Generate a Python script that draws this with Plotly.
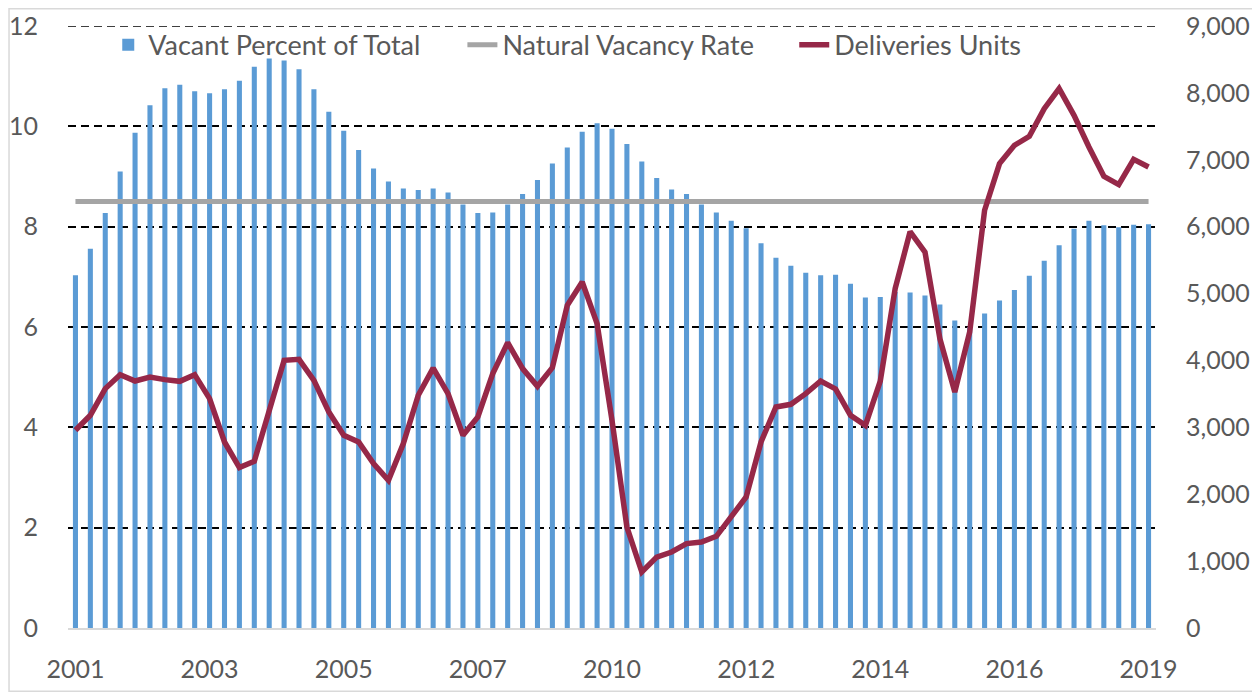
import plotly.graph_objects as go

# ---- data ----
quarters = [f"{y}Q{q}" for y in range(2001, 2019) for q in range(1, 5)] + ["2019Q1"]

vacant_pct = [7.03, 7.56, 8.27, 9.10, 9.87, 10.42, 10.76, 10.83, 10.70, 10.66,
              10.74, 10.91, 11.19, 11.35, 11.31, 11.14, 10.74, 10.29, 9.91, 9.53,
              9.16, 8.90, 8.76, 8.73, 8.76, 8.68, 8.44, 8.27, 8.28, 8.44,
              8.65, 8.93, 9.26, 9.58, 9.89, 10.06, 9.95, 9.65, 9.30, 8.97,
              8.74, 8.65, 8.44, 8.28, 8.12, 7.97, 7.67, 7.38, 7.22, 7.08,
              7.03, 7.04, 6.86, 6.59, 6.60, 6.70, 6.69, 6.63, 6.45, 6.13,
              6.00, 6.27, 6.53, 6.74, 7.02, 7.32, 7.63, 7.96, 8.12, 8.03,
              7.99, 8.04, 8.05]

natural_rate_value = 8.5
natural_rate = [natural_rate_value] * len(quarters)

deliveries = [2956, 3180, 3579, 3788, 3693, 3753, 3713, 3688, 3788, 3429,
              2781, 2398, 2492, 3255, 4002, 4017, 3703, 3229, 2881, 2781,
              2458, 2208, 2757, 3479, 3885, 3504, 2881, 3155, 3803, 4266,
              3878, 3613, 3893, 4824, 5173, 4550, 3105, 1510, 837, 1061,
              1136, 1262, 1286, 1371, 1660, 1958, 2781, 3304, 3344, 3504,
              3693, 3574, 3180, 3030, 3690, 5074, 5925, 5621, 4326, 3528,
              4425, 6245, 6943, 7216, 7351, 7765, 8064, 7665, 7191, 6753,
              6629, 7007, 6892]

tick_idx = list(range(0, len(quarters), 9))
tick_vals = [quarters[i] for i in tick_idx]
tick_text = [quarters[i][:4] for i in tick_idx]

left_ticks = [0, 2, 4, 6, 8, 10, 12]
right_ticks = [0, 1000, 2000, 3000, 4000, 5000, 6000, 7000, 8000, 9000]

FONT = "Lato"
GREY_TXT = "#595959"

fig = go.Figure()
fig.add_trace(go.Bar(
    x=quarters, y=vacant_pct, name="Vacant Percent of Total",
    marker=dict(color="#5B9BD5", line=dict(width=0)),
    legend="legend", yaxis="y", showlegend=True,
))
fig.add_trace(go.Scatter(
    x=quarters, y=natural_rate, name="Natural Vacancy Rate", mode="lines",
    line=dict(color="#A5A5A5", width=5), legend="legend2", yaxis="y", showlegend=True,
))
fig.add_trace(go.Scatter(
    x=quarters, y=deliveries, name="Deliveries Units", mode="lines",
    line=dict(color="#962848", width=5.5), legend="legend3", yaxis="y2", showlegend=True,
))

legend_common = dict(orientation="h", yanchor="middle", y=0.968, xanchor="left",
                     font=dict(family=FONT, size=27, color=GREY_TXT),
                     bgcolor="rgba(0,0,0,0)", borderwidth=0)

# page body has an 8px margin: figure is sized to fit the 1260x692 window
fig.update_layout(
    width=1252, height=684,
    margin=dict(l=59.5, r=103.5, t=17.7, b=64.3, autoexpand=False),
    paper_bgcolor="white", plot_bgcolor="white",
    showlegend=True,
    bargap=0.66,
    font=dict(family=FONT, size=24, color=GREY_TXT),
    legend=dict(x=0.037, **legend_common),
    legend2=dict(x=0.3625, **legend_common),
    legend3=dict(x=0.6675, **legend_common),
    xaxis=dict(
        type="category", categoryorder="array", categoryarray=quarters,
        range=[-0.5, len(quarters) - 0.5], automargin=False,
        tickvals=tick_vals, ticktext=tick_text,
        ticks="outside", ticklen=18, tickcolor="rgba(0,0,0,0)",
        showgrid=False, showline=True, linecolor="#D9D9D9", linewidth=2,
        tickfont=dict(family=FONT, size=25, color=GREY_TXT),
    ),
    yaxis=dict(
        range=[0, 12], tickvals=left_ticks, automargin=False,
        ticks="outside", ticklen=24, tickcolor="rgba(0,0,0,0)",
        showgrid=True, gridcolor="black", gridwidth=1.6, griddash="8px,5px",
        zeroline=False, showline=False,
        tickfont=dict(family=FONT, size=25, color=GREY_TXT),
    ),
    yaxis2=dict(
        range=[0, 9000], tickvals=right_ticks, overlaying="y", side="right",
        tickformat=",d", automargin=False,
        ticks="outside", ticklen=24, tickcolor="rgba(0,0,0,0)",
        showgrid=False, zeroline=False, showline=False,
        tickfont=dict(family=FONT, size=25, color=GREY_TXT),
    ),
    shapes=[
        dict(type="rect", xref="paper", yref="paper",
             x0=-0.0542, x1=1.0895, y0=-0.105, y1=1.0286,
             line=dict(color="#D9D9D9", width=1.5), layer="below"),
        # top gridline (plotly skips gridlines lying on the plot edge)
        dict(type="line", xref="paper", yref="y", x0=0, x1=1,
             y0=left_ticks[-1], y1=left_ticks[-1],
             line=dict(color="black", width=1.6, dash="8px,5px"), layer="below"),
    ],
)

fig.write_html("out.html")
